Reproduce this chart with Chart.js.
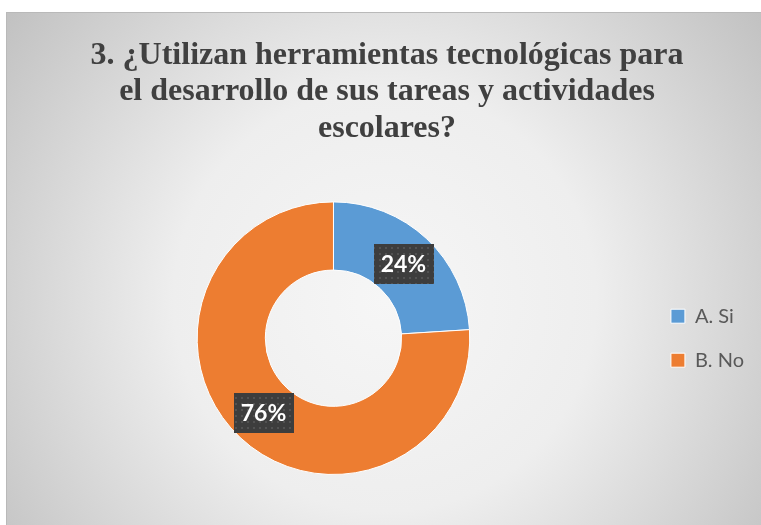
<!DOCTYPE html>
<html>
<head>
<meta charset="utf-8">
<script src="https://cdn.jsdelivr.net/npm/chart.js@4/dist/chart.umd.min.js"></script>
<style>
html,body{margin:0;padding:0;background:#fff;}
#wrap{position:relative;width:761px;height:525px;}
</style>
</head>
<body>
<div id="wrap"><canvas id="c" width="761" height="525"></canvas></div>
<script>
const categories = ['A. Si', 'B. No'];
const values = [24, 76];
const colors = ['#5B9BD5', '#ED7D31'];
const titleLines = ['3. ¿Utilizan herramientas tecnológicas para', 'el desarrollo de sus tareas y actividades', 'escolares?'];

const bgPlugin = {
  id: 'bg',
  beforeDraw(chart) {
    const ctx = chart.ctx;
    ctx.save();
    ctx.fillStyle = '#ffffff';
    ctx.fillRect(0, 0, chart.width, chart.height);
    const g = ctx.createRadialGradient(385, 300, 0, 385, 300, 470);
    g.addColorStop(0, '#f6f6f6');
    g.addColorStop(0.45, '#eeeeee');
    g.addColorStop(1, '#c2c2c2');
    ctx.fillStyle = g;
    ctx.fillRect(6, 12, chart.width, chart.height);
    ctx.strokeStyle = '#b9b9b9';
    ctx.lineWidth = 1;
    ctx.strokeRect(6.5, 12.5, chart.width + 10, chart.height + 10);
    ctx.restore();
  }
};

function makePattern(ctx) {
  const c = document.createElement('canvas');
  c.width = 6; c.height = 6;
  const p = c.getContext('2d');
  p.fillStyle = '#3d3d3d';
  p.fillRect(0, 0, 6, 6);
  p.fillStyle = '#525252';
  p.fillRect(1, 1, 2, 2);
  return ctx.createPattern(c, 'repeat');
}

const labelPlugin = {
  id: 'pctLabels',
  afterDatasetsDraw(chart) {
    const ctx = chart.ctx;
    const meta = chart.getDatasetMeta(0);
    const data = chart.data.datasets[0].data;
    const total = data.reduce((a, b) => a + b, 0);
    const pat = makePattern(ctx);
    ctx.save();
    ctx.font = 'bold 23px Lato';
    ctx.textAlign = 'center';
    ctx.textBaseline = 'middle';
    meta.data.forEach((arc, i) => {
      const pos = arc.tooltipPosition();
      const txt = Math.round(data[i] / total * 100) + '%';
      const w = ctx.measureText(txt).width + 14;
      const h = 40;
      ctx.fillStyle = pat;
      ctx.fillRect(Math.round(pos.x - w / 2), Math.round(pos.y - h / 2), Math.round(w), h);
      ctx.fillStyle = '#ffffff';
      ctx.fillText(txt, pos.x, pos.y + 1);
    });
    ctx.restore();
  }
};

new Chart(document.getElementById('c'), {
  type: 'doughnut',
  data: {
    labels: categories,
    datasets: [{
      data: values,
      backgroundColor: colors,
      borderColor: '#ffffff',
      borderWidth: 1,
      hoverOffset: 0
    }]
  },
  options: {
    responsive: false,
    animation: false,
    events: [],
    cutout: '50%',
    layout: { padding: { top: 37, bottom: 50, left: 20, right: 7 } },
    plugins: {
      title: {
        display: true,
        text: titleLines,
        color: '#404040',
        font: { family: "'Liberation Serif', 'Times New Roman', serif", size: 32, weight: 'bold', lineHeight: 1.15 },
        padding: { top: 0, bottom: 54 }
      },
      legend: {
        position: 'right',
        fullSize: false,
        labels: {
          boxWidth: 14,
          boxHeight: 14,
          padding: 24,
          color: '#595959',
          font: { family: 'Lato', size: 20 }
        }
      },
      tooltip: { enabled: false }
    }
  },
  plugins: [bgPlugin, labelPlugin]
});
</script>
</body>
</html>
